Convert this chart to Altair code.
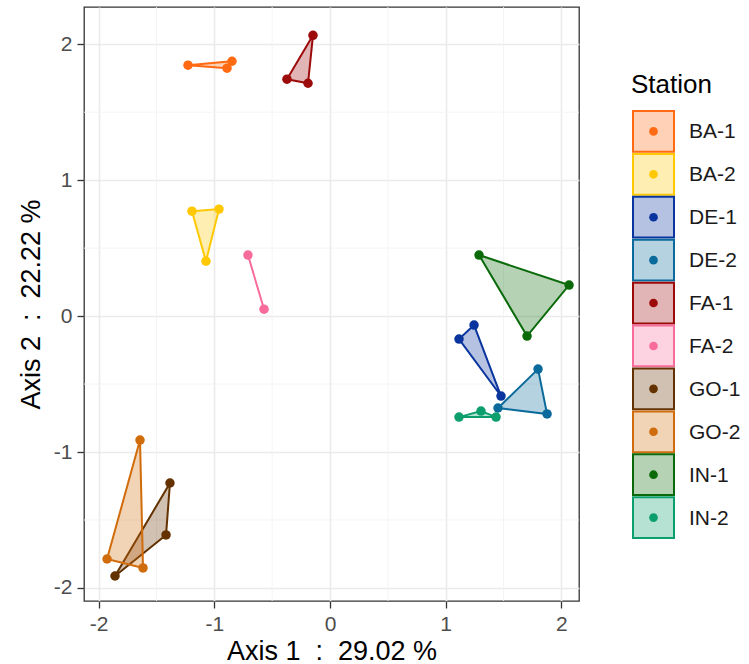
import altair as alt
import pandas as pd

# ---- data ----
stations = ["BA-1", "BA-2", "DE-1", "DE-2", "FA-1", "FA-2", "GO-1", "GO-2", "IN-1", "IN-2"]
colors = ["#FF6A12", "#FFC800", "#0A349E", "#0A6A9C", "#9C0A0A", "#F76C9A",
          "#633200", "#D06C0C", "#0A6A0A", "#0C9E6C"]

point_station = ["BA-1", "BA-1", "BA-1",
                 "BA-2", "BA-2", "BA-2",
                 "DE-1", "DE-1", "DE-1",
                 "DE-2", "DE-2", "DE-2",
                 "FA-1", "FA-1", "FA-1",
                 "FA-2", "FA-2",
                 "GO-1", "GO-1", "GO-1",
                 "GO-2", "GO-2", "GO-2",
                 "IN-1", "IN-1", "IN-1",
                 "IN-2", "IN-2", "IN-2"]
axis1 = [-1.227, -0.847, -0.890,
         -1.193, -0.959, -1.072,
         1.245, 1.115, 1.478,
         1.798, 1.876, 1.452,
         -0.147, -0.372, -0.190,
         -0.709, -0.570,
         -1.383, -1.417, -1.858,
         -1.642, -1.927, -1.616,
         1.288, 2.066, 1.703,
         1.115, 1.305, 1.435]
axis2 = [1.846, 1.875, 1.824,
         0.772, 0.787, 0.404,
         -0.066, -0.169, -0.588,
         -0.390, -0.720, -0.676,
         2.066, 1.743, 1.713,
         0.449, 0.051,
         -1.228, -1.610, -1.912,
         -0.912, -1.787, -1.853,
         0.449, 0.228, -0.147,
         -0.743, -0.699, -0.743]

major_ticks = [-2, -1, 0, 1, 2]
minor_ticks = [-1.5, -0.5, 0.5, 1.5]

x_domain = [-2.126, 2.152]
y_domain = [-2.096, 2.274]

x_title = "Axis 1\u00a0\u00a0:\u00a0\u00a029.02 %"
y_title = "Axis 2\u00a0\u00a0:\u00a0\u00a022.22 %"

# ---- tables ----
pts = pd.DataFrame({"Station": point_station, "A1": axis1, "A2": axis2})
pts["vertex"] = pts.groupby("Station").cumcount()
closing = pts.groupby("Station").head(1).copy()
closing["vertex"] = pts.groupby("Station")["vertex"].max().reindex(closing["Station"]).values + 1
hull = pd.concat([pts, closing], ignore_index=True)

color_scale = alt.Scale(domain=stations, range=colors)
xs = alt.Scale(domain=x_domain, nice=False, zero=False)
ys = alt.Scale(domain=y_domain, nice=False, zero=False)

label_font = "Liberation Sans"
minus_fix = "datum.value < 0 ? '-' + format(-datum.value, 'd') : format(datum.value, 'd')"


def make_axis(title, title_pad, label_pad):
    return alt.Axis(title=title, values=major_ticks, grid=True,
                    gridColor="#EBEBEB", gridWidth=1.6, domain=False,
                    tickColor="#333333", tickSize=7, tickWidth=1.3,
                    labelColor="#4D4D4D", labelFontSize=21, labelFont=label_font,
                    labelExpr=minus_fix, labelPadding=label_pad,
                    titleFontSize=27, titleFont=label_font,
                    titleFontWeight="normal", titleColor="#000000",
                    titlePadding=title_pad)


x_axis = make_axis(x_title, 4, 5)
y_axis = make_axis(y_title, 8, 5)

minor_x = alt.Chart(pd.DataFrame({"v": minor_ticks})).mark_rule(
    color="#F3F3F3", strokeWidth=0.9).encode(x=alt.X("v:Q", scale=xs, axis=x_axis))
minor_y = alt.Chart(pd.DataFrame({"v": minor_ticks})).mark_rule(
    color="#F3F3F3", strokeWidth=0.9).encode(y=alt.Y("v:Q", scale=ys, axis=y_axis))

polys = alt.Chart(hull).mark_line(fillOpacity=0.3, strokeWidth=2).encode(
    x=alt.X("A1:Q", scale=xs, axis=x_axis),
    y=alt.Y("A2:Q", scale=ys, axis=y_axis),
    fill=alt.Fill("Station:N", scale=color_scale, legend=None),
    stroke=alt.Stroke("Station:N", scale=color_scale, legend=None),
    detail="Station:N",
    order="vertex:Q",
)

points = alt.Chart(pts).mark_circle(size=90, opacity=1).encode(
    x=alt.X("A1:Q", scale=xs, axis=x_axis),
    y=alt.Y("A2:Q", scale=ys, axis=y_axis),
    color=alt.Color("Station:N", scale=color_scale, legend=None),
)

main = alt.layer(minor_x, minor_y, polys, points).properties(
    width=495, height=594,
    view=alt.ViewBackground(stroke="#333333", strokeWidth=1.3))

# ---- custom legend ----
leg = pd.DataFrame({"Station": stations})
ly = alt.Y("Station:N", scale=alt.Scale(domain=stations, range=[104, 531],
                                        paddingInner=0.05, paddingOuter=0), axis=None)
boxes = alt.Chart(leg).mark_rect(fillOpacity=0.3, strokeWidth=2).encode(
    x=alt.value(35), x2=alt.value(76), y=ly,
    fill=alt.Fill("Station:N", scale=color_scale, legend=None),
    stroke=alt.Stroke("Station:N", scale=color_scale, legend=None),
)
dots = alt.Chart(leg).mark_circle(size=75, opacity=1).encode(
    x=alt.value(55.5), y=ly,
    color=alt.Color("Station:N", scale=color_scale, legend=None),
)
labels = alt.Chart(leg).mark_text(align="left", baseline="middle", fontSize=21,
                                  font=label_font, color="#1A1A1A", dy=1).encode(
    x=alt.value(91), y=ly, text="Station:N")
title = alt.Chart(pd.DataFrame({"t": ["Station"]})).mark_text(
    align="left", baseline="alphabetic", fontSize=26, font=label_font, color="#000000").encode(
    x=alt.value(33), y=alt.value(86), text="t:N")

legend = alt.layer(boxes, dots, labels, title).properties(
    width=130, height=594,
    view=alt.ViewBackground(stroke="transparent"))

chart = alt.HConcatChart(hconcat=[main, legend], spacing=16).configure_view(
    stroke="transparent").properties(
    padding={"left": 16, "top": 5, "right": 0, "bottom": 0})

chart.save("out.html", embed_options={"renderer": "svg", "actions": False})
